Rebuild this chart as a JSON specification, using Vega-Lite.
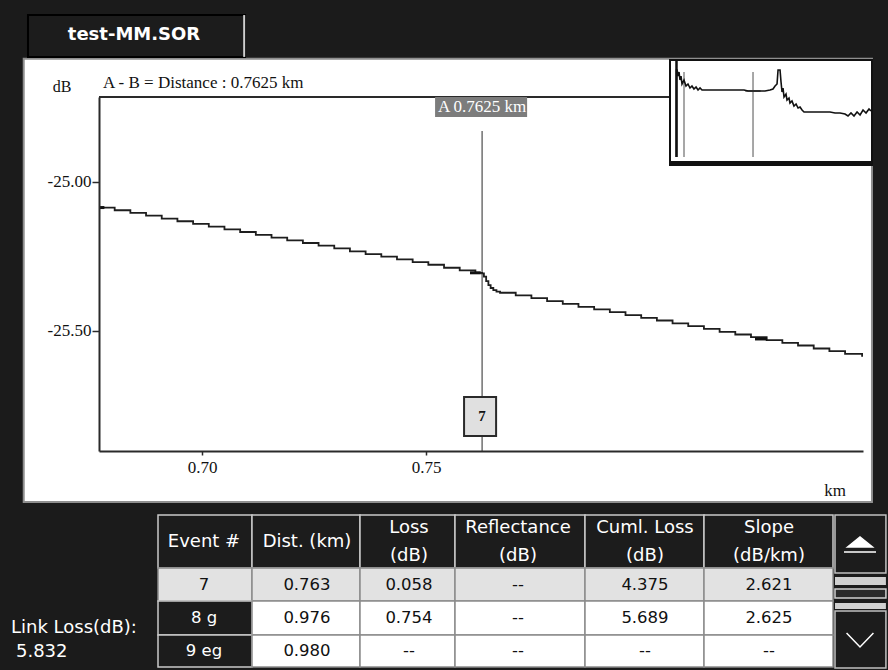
{
"$schema": "https://vega.github.io/schema/vega-lite/v6.json",
"width": 888, "height": 670, "autosize": "none", "padding": 0,
"background": "#1b1b1b",
"config": {"view": {"stroke": null}},
"data": {"values": [{}]},
"datasets": {
"trace": [
{"km":0.6770,"db":-25.086},{"km":0.6805,"db":-25.095},{"km":0.6840,"db":-25.104},{"km":0.6875,"db":-25.113},{"km":0.6910,"db":-25.123},{"km":0.6945,"db":-25.132},{"km":0.6980,"db":-25.141},{"km":0.7015,"db":-25.150},{"km":0.7050,"db":-25.159},{"km":0.7085,"db":-25.168},{"km":0.7120,"db":-25.178},{"km":0.7155,"db":-25.187},{"km":0.7190,"db":-25.196},{"km":0.7225,"db":-25.205},{"km":0.7260,"db":-25.214},{"km":0.7295,"db":-25.223},{"km":0.7330,"db":-25.233},{"km":0.7365,"db":-25.242},{"km":0.7400,"db":-25.251},{"km":0.7435,"db":-25.260},{"km":0.7470,"db":-25.269},{"km":0.7505,"db":-25.278},{"km":0.7540,"db":-25.288},{"km":0.7575,"db":-25.297},{"km":0.7610,"db":-25.305},{"km":0.7625,"db":-25.307},
{"km":0.7629,"db":-25.318},{"km":0.7634,"db":-25.333},{"km":0.7639,"db":-25.346},{"km":0.7644,"db":-25.356},{"km":0.7650,"db":-25.363},{"km":0.7657,"db":-25.368},
{"km":0.7665,"db":-25.372},{"km":0.7700,"db":-25.381},{"km":0.7735,"db":-25.390},{"km":0.7770,"db":-25.400},{"km":0.7805,"db":-25.409},{"km":0.7840,"db":-25.419},{"km":0.7875,"db":-25.428},{"km":0.7910,"db":-25.437},{"km":0.7945,"db":-25.447},{"km":0.7980,"db":-25.456},{"km":0.8015,"db":-25.465},{"km":0.8050,"db":-25.475},{"km":0.8085,"db":-25.484},{"km":0.8120,"db":-25.493},{"km":0.8155,"db":-25.503},{"km":0.8190,"db":-25.512},{"km":0.8225,"db":-25.521},{"km":0.8260,"db":-25.531},{"km":0.8295,"db":-25.540},{"km":0.8330,"db":-25.549},{"km":0.8365,"db":-25.559},{"km":0.8400,"db":-25.568},{"km":0.8435,"db":-25.577},{"km":0.8473,"db":-25.587}
],
"markers": [
{"seg":"a","x0":0.6770,"x1":0.6782,"db":-25.086},
{"seg":"b","x0":0.7598,"x1":0.7622,"db":-25.305},
{"seg":"c","x0":0.8234,"x1":0.8261,"db":-25.527}
],
"cursor": [{"cursor":"A","km":0.7625,"label":"A 0.7625 km"}],
"events": [{"event":"7","km":0.7625}],
"overview": [
{"km":-0.083,"db":-46.46},{"km":-0.083,"db":-18.99},{"km":-0.077,"db":-18.99},{"km":-0.066,"db":-20.88},{"km":-0.055,"db":-19.62},{"km":-0.044,"db":-22.15},{"km":-0.033,"db":-20.88},{"km":-0.022,"db":-23.41},{"km":0.000,"db":-22.15},{"km":0.022,"db":-24.04},{"km":0.044,"db":-23.41},{"km":0.066,"db":-24.67},{"km":0.088,"db":-24.04},{"km":0.110,"db":-24.99},{"km":0.133,"db":-24.36},{"km":0.155,"db":-25.30},{"km":0.177,"db":-24.67},{"km":0.199,"db":-25.30},{"km":0.663,"db":-25.30},{"km":0.707,"db":-25.62},{"km":0.895,"db":-25.62},{"km":0.950,"db":-25.30},{"km":0.983,"db":-24.99},{"km":1.006,"db":-24.04},{"km":1.028,"db":-23.41},{"km":1.039,"db":-18.99},{"km":1.061,"db":-18.99},{"km":1.072,"db":-22.78},{"km":1.083,"db":-25.93},{"km":1.094,"db":-24.67},{"km":1.105,"db":-27.51},{"km":1.127,"db":-26.57},{"km":1.138,"db":-28.46},{"km":1.160,"db":-27.83},{"km":1.171,"db":-29.41},{"km":1.193,"db":-28.78},{"km":1.215,"db":-30.35},{"km":1.238,"db":-29.72},{"km":1.260,"db":-30.99},{"km":1.282,"db":-30.67},{"km":1.304,"db":-31.62},{"km":1.326,"db":-32.25},{"km":1.613,"db":-32.25},{"km":1.669,"db":-32.56},{"km":1.724,"db":-32.56},{"km":1.779,"db":-32.88},{"km":1.812,"db":-33.51},{"km":1.845,"db":-32.56},{"km":1.878,"db":-33.51},{"km":1.912,"db":-32.25},{"km":1.945,"db":-33.20},{"km":1.978,"db":-31.62},{"km":2.011,"db":-32.56},{"km":2.044,"db":-31.30},{"km":2.066,"db":-31.93}
],
"overviewCursors": [{"cursor":"B","km":0.0},{"cursor":"A","km":0.7625}],
"zoomWindow": [{"km0":0.677,"km1":0.8475}],
"table": [
{"r":0,"r2":1,"c":0,"c2":1,"kind":"header","text":"Event #"},
{"r":0,"r2":1,"c":1,"c2":2,"kind":"header","text":"Dist. (km)"},
{"r":0,"r2":1,"c":2,"c2":3,"kind":"header","text":"Loss\n(dB)"},
{"r":0,"r2":1,"c":3,"c2":4,"kind":"header","text":"Reflectance\n(dB)"},
{"r":0,"r2":1,"c":4,"c2":5,"kind":"header","text":"Cuml. Loss\n(dB)"},
{"r":0,"r2":1,"c":5,"c2":6,"kind":"header","text":"Slope\n(dB/km)"},
{"r":1,"r2":2,"c":0,"c2":1,"kind":"sel","text":"7"},
{"r":1,"r2":2,"c":1,"c2":2,"kind":"sel","text":"0.763"},
{"r":1,"r2":2,"c":2,"c2":3,"kind":"sel","text":"0.058"},
{"r":1,"r2":2,"c":3,"c2":4,"kind":"sel","text":"--"},
{"r":1,"r2":2,"c":4,"c2":5,"kind":"sel","text":"4.375"},
{"r":1,"r2":2,"c":5,"c2":6,"kind":"sel","text":"2.621"},
{"r":2,"r2":3,"c":0,"c2":1,"kind":"evt","text":"8 g"},
{"r":2,"r2":3,"c":1,"c2":2,"kind":"cell","text":"0.976"},
{"r":2,"r2":3,"c":2,"c2":3,"kind":"cell","text":"0.754"},
{"r":2,"r2":3,"c":3,"c2":4,"kind":"cell","text":"--"},
{"r":2,"r2":3,"c":4,"c2":5,"kind":"cell","text":"5.689"},
{"r":2,"r2":3,"c":5,"c2":6,"kind":"cell","text":"2.625"},
{"r":3,"r2":4,"c":0,"c2":1,"kind":"evt","text":"9 eg"},
{"r":3,"r2":4,"c":1,"c2":2,"kind":"cell","text":"0.980"},
{"r":3,"r2":4,"c":2,"c2":3,"kind":"cell","text":"--"},
{"r":3,"r2":4,"c":3,"c2":4,"kind":"cell","text":"--"},
{"r":3,"r2":4,"c":4,"c2":5,"kind":"cell","text":"--"},
{"r":3,"r2":4,"c":5,"c2":6,"kind":"cell","text":"--"}
]
},
"resolve": {"scale": {"x": "independent", "y": "independent"}, "axis": {"x": "independent", "y": "independent"}},
"layer": [
{
"layer": [
{"mark": {"type": "rect", "fill": "#ffffff", "stroke": "#8f8f8f", "strokeWidth": 2},
 "encoding": {"x": {"datum": 0.6602, "type": "quantitative", "scale": {"domain": [0.677, 0.8475], "range": [99, 863], "nice": false, "zero": false}}, "x2": {"datum": 0.8495}, "y": {"datum": -24.587, "type": "quantitative", "scale": {"domain": [-25.903, -24.715], "range": [451, 97], "nice": false, "zero": false}}, "y2": {"datum": -26.074}}},
{"mark": {"type": "rect", "fill": "#1c1c1c", "stroke": "#000000", "strokeWidth": 2},
 "encoding": {"x": {"datum": 0.66115, "type": "quantitative"}, "x2": {"datum": 0.70959}, "y": {"datum": -24.440, "type": "quantitative"}, "y2": {"datum": -24.5805}}},
{"mark": {"type": "rule", "color": "#cfcfcf", "strokeWidth": 2},
 "encoding": {"x": {"datum": 0.7094, "type": "quantitative"}, "y": {"datum": -24.440, "type": "quantitative"}, "y2": {"datum": -24.5805}}},
{"mark": {"type": "text", "font": "DejaVu Sans", "fontWeight": "bold", "fontSize": 18, "color": "#ffffff", "align": "center", "baseline": "middle", "text": "test-MM.SOR"},
 "encoding": {"x": {"datum": 0.68481, "type": "quantitative"}, "y": {"datum": -24.5067, "type": "quantitative"}}},
{"mark": {"type": "rule", "color": "#2a2a2a", "strokeWidth": 2},
 "encoding": {"x": {"datum": 0.677, "type": "quantitative"}, "x2": {"datum": 0.8475}, "y": {"datum": -24.715, "type": "quantitative"}}},
{"data": {"name": "cursor"}, "mark": {"type": "rule", "color": "#707070", "strokeWidth": 1.5},
 "encoding": {"x": {"field": "km", "type": "quantitative"}, "y": {"datum": -24.829, "type": "quantitative"}, "y2": {"datum": -25.903}}},
{"data": {"name": "trace"}, "mark": {"type": "line", "interpolate": "step-after", "color": "#1e1e1e", "strokeWidth": 1.8},
 "encoding": {
  "x": {"field": "km", "type": "quantitative", "scale": {"domain": [0.677, 0.8475], "range": [99, 863], "nice": false, "zero": false},
        "axis": {"orient": "bottom", "offset": -219, "values": [0.7, 0.75], "format": ".2f", "title": null, "grid": false, "domainColor": "#2a2a2a", "domainWidth": 2, "tickColor": "#2a2a2a", "tickSize": 4, "tickWidth": 1.5, "labelFont": "Liberation Serif", "labelFontSize": 17, "labelColor": "#111111", "labelPadding": 4, "labelFlush": false, "labelOverlap": false, "zindex": 1}},
  "y": {"field": "db", "type": "quantitative", "scale": {"domain": [-25.903, -24.715], "range": [451, 97], "nice": false, "zero": false},
        "axis": {"orient": "left", "offset": -99, "values": [-25, -25.5], "labelExpr": "'-' + format(-datum.value, '.2f')", "title": null, "grid": false, "domainColor": "#2a2a2a", "domainWidth": 2, "tickColor": "#2a2a2a", "tickSize": 7, "tickWidth": 1.5, "labelFont": "Liberation Serif", "labelFontSize": 17, "labelColor": "#111111", "labelPadding": 1, "labelFlush": false, "labelOverlap": false, "zindex": 1}}}},
{"data": {"name": "markers"}, "mark": {"type": "rule", "color": "#111111", "strokeWidth": 3},
 "encoding": {"x": {"field": "x0", "type": "quantitative"}, "x2": {"field": "x1"}, "y": {"field": "db", "type": "quantitative"}}},
{"mark": {"type": "rect", "fill": "#7c7c7c"},
 "encoding": {"x": {"datum": 0.7520, "type": "quantitative"}, "x2": {"datum": 0.77254}, "y": {"datum": -24.715, "type": "quantitative"}, "y2": {"datum": -24.782}}},
{"data": {"name": "cursor"}, "mark": {"type": "text", "font": "Liberation Serif", "fontSize": 17, "color": "#ffffff", "align": "center", "baseline": "middle"},
 "encoding": {"x": {"field": "km", "type": "quantitative"}, "y": {"datum": -24.7485, "type": "quantitative"}, "text": {"field": "label"}}},
{"mark": {"type": "rect", "fill": "#e0e0e0", "stroke": "#2a2a2a", "strokeWidth": 2},
 "encoding": {"x": {"datum": 0.75847, "type": "quantitative"}, "x2": {"datum": 0.76562}, "y": {"datum": -25.7215, "type": "quantitative"}, "y2": {"datum": -25.8523}}},
{"data": {"name": "events"}, "mark": {"type": "text", "font": "Liberation Serif", "fontWeight": "bold", "fontSize": 15, "color": "#111111", "align": "center", "baseline": "middle"},
 "encoding": {"x": {"field": "km", "type": "quantitative"}, "y": {"datum": -25.787, "type": "quantitative"}, "text": {"field": "event"}}},
{"mark": {"type": "text", "font": "Liberation Serif", "fontSize": 17, "color": "#111111", "align": "left", "baseline": "middle", "text": "A - B = Distance : 0.7625 km"},
 "encoding": {"x": {"datum": 0.6779, "type": "quantitative"}, "y": {"datum": -24.668, "type": "quantitative"}}},
{"mark": {"type": "text", "font": "Liberation Serif", "fontSize": 16, "color": "#111111", "align": "center", "baseline": "middle", "text": "dB"},
 "encoding": {"x": {"datum": 0.66874, "type": "quantitative"}, "y": {"datum": -24.681, "type": "quantitative"}}},
{"mark": {"type": "text", "font": "Liberation Serif", "fontSize": 17, "color": "#111111", "align": "center", "baseline": "middle", "text": "km"},
 "encoding": {"x": {"datum": 0.84129, "type": "quantitative"}, "y": {"datum": -26.037, "type": "quantitative"}}},
{"mark": {"type": "text", "font": "DejaVu Sans", "fontSize": 18, "color": "#ffffff", "align": "left", "baseline": "middle", "text": "Link Loss(dB):"},
 "encoding": {"x": {"datum": 0.65735, "type": "quantitative"}, "y": {"datum": -26.4966, "type": "quantitative"}}},
{"mark": {"type": "text", "font": "DejaVu Sans", "fontSize": 18, "color": "#ffffff", "align": "left", "baseline": "middle", "text": "5.832"},
 "encoding": {"x": {"datum": 0.65847, "type": "quantitative"}, "y": {"datum": -26.5772, "type": "quantitative"}}}
]
},
{
"layer": [
{"mark": {"type": "rect", "fill": "#ffffff", "stroke": "#111111", "strokeWidth": 2},
 "encoding": {"x": {"datum": -0.1547, "type": "quantitative", "scale": {"domain": [-0.1547, 2.077], "range": [670, 872], "nice": false, "zero": false}, "axis": null}, "x2": {"datum": 2.077}, "y": {"datum": -48.98, "type": "quantitative", "scale": {"domain": [-48.98, -15.83], "range": [165, 60], "nice": false, "zero": false}, "axis": null}, "y2": {"datum": -15.83}}},
{"mark": {"type": "rule", "color": "#111111", "strokeWidth": 4},
 "encoding": {"x": {"datum": -0.1547, "type": "quantitative", "axis": null}, "x2": {"datum": 2.077}, "y": {"datum": -48.35, "type": "quantitative", "axis": null}}},
{"mark": {"type": "rule", "color": "#111111", "strokeWidth": 2.5},
 "encoding": {"x": {"datum": -0.083, "type": "quantitative", "axis": null}, "y": {"datum": -15.83, "type": "quantitative", "axis": null}, "y2": {"datum": -46.46}}},
{"data": {"name": "overviewCursors"}, "mark": {"type": "rule", "color": "#8a8a8a", "strokeWidth": 1.5},
 "encoding": {"x": {"field": "km", "type": "quantitative", "axis": null}, "y": {"datum": -19.62, "type": "quantitative", "axis": null}, "y2": {"datum": -46.46}}},
{"data": {"name": "zoomWindow"}, "mark": {"type": "rule", "color": "#8a8a8a", "strokeWidth": 2},
 "encoding": {"x": {"field": "km0", "type": "quantitative", "axis": null}, "x2": {"field": "km1"}, "y": {"datum": -25.62, "type": "quantitative", "axis": null}}},
{"data": {"name": "overview"}, "mark": {"type": "line", "color": "#111111", "strokeWidth": 1.6},
 "encoding": {"x": {"field": "km", "type": "quantitative", "axis": null}, "y": {"field": "db", "type": "quantitative", "axis": null}}}
]
},
{
"layer": [
{"data": {"name": "table"}, "mark": {"type": "rect", "strokeWidth": 1.5},
 "encoding": {
  "x": {"field": "c", "type": "quantitative", "scale": {"domain": [0, 1, 2, 3, 4, 5, 6, 7], "range": [158, 252, 360, 455, 585, 704, 833, 887], "nice": false, "zero": false}, "axis": null},
  "x2": {"field": "c2"},
  "y": {"field": "r", "type": "quantitative", "scale": {"domain": [0, 1, 2, 3, 4], "range": [515, 568, 601, 635, 667], "nice": false, "zero": false}, "axis": null},
  "y2": {"field": "r2"},
  "fill": {"field": "kind", "type": "nominal", "scale": {"domain": ["header", "sel", "evt", "cell"], "range": ["#1c1c1c", "#e2e2e2", "#1c1c1c", "#ffffff"]}, "legend": null},
  "stroke": {"field": "kind", "type": "nominal", "scale": {"domain": ["header", "sel", "evt", "cell"], "range": ["#c9c9c9", "#8c8c8c", "#c9c9c9", "#8c8c8c"]}, "legend": null}}},
{"mark": {"type": "rect", "fill": "#1c1c1c", "stroke": "#c0c0c0", "strokeWidth": 1.5},
 "encoding": {"x": {"datum": 6.037, "type": "quantitative", "axis": null}, "x2": {"datum": 6.98}, "y": {"datum": 0, "type": "quantitative", "axis": null}, "y2": {"datum": 1.15}}},
{"mark": {"type": "rect", "fill": "#1c1c1c", "stroke": "#c0c0c0", "strokeWidth": 1.5},
 "encoding": {"x": {"datum": 6.037, "type": "quantitative", "axis": null}, "x2": {"datum": 6.98}, "y": {"datum": 2.294, "type": "quantitative", "axis": null}, "y2": {"datum": 4.03}}},
{"mark": {"type": "rect", "fill": "#d0d0d0"},
 "encoding": {"x": {"datum": 6.037, "type": "quantitative", "axis": null}, "x2": {"datum": 6.98}, "y": {"datum": 1.273, "type": "quantitative", "axis": null}, "y2": {"datum": 1.515}}},
{"mark": {"type": "rect", "fill": "#2a2a2a", "stroke": "#d0d0d0", "strokeWidth": 1.5},
 "encoding": {"x": {"datum": 6.037, "type": "quantitative", "axis": null}, "x2": {"datum": 6.98}, "y": {"datum": 1.636, "type": "quantitative", "axis": null}, "y2": {"datum": 1.909}}},
{"mark": {"type": "rect", "fill": "#d0d0d0"},
 "encoding": {"x": {"datum": 6.037, "type": "quantitative", "axis": null}, "x2": {"datum": 6.98}, "y": {"datum": 2.06, "type": "quantitative", "axis": null}, "y2": {"datum": 2.235}}},
{"mark": {"type": "point", "shape": "M-0.78,0.19L0,-0.44L0.78,0.19Z M-1,0.5L1,0.5", "size": 1024, "filled": true, "fill": "#ffffff", "stroke": "#ffffff", "strokeWidth": 1.5, "opacity": 1},
 "encoding": {"x": {"datum": 6.5, "type": "quantitative", "axis": null}, "y": {"datum": 0.547, "type": "quantitative", "axis": null}}},
{"mark": {"type": "point", "shape": "M-0.84,-0.44L0,0.44L0.84,-0.44", "size": 1024, "filled": false, "color": "#ffffff", "strokeWidth": 1.5, "opacity": 1},
 "encoding": {"x": {"datum": 6.5, "type": "quantitative", "axis": null}, "y": {"datum": 3.156, "type": "quantitative", "axis": null}}}
]
},
{
"layer": [
{"data": {"name": "table"}, "transform": [{"filter": "datum.kind == 'header' && datum.c < 2"}],
 "mark": {"type": "text", "font": "DejaVu Sans", "fontSize": 18, "color": "#ffffff", "align": "center", "baseline": "middle"},
 "encoding": {
  "x": {"field": "c", "type": "quantitative", "scale": {"domain": [0, 1, 2, 3, 4, 5], "range": [204, 307, 409, 518, 645, 769], "nice": false, "zero": false}, "axis": null},
  "y": {"field": "r", "type": "quantitative", "scale": {"domain": [0, 1, 2, 3], "range": [542, 585, 618, 651], "nice": false, "zero": false}, "axis": null},
  "text": {"field": "text"}}},
{"data": {"name": "table"}, "transform": [{"filter": "datum.kind == 'header' && datum.c >= 2"}],
 "mark": {"type": "text", "font": "DejaVu Sans", "fontSize": 18, "color": "#ffffff", "align": "center", "baseline": "middle", "lineBreak": "\n", "lineHeight": 28, "dy": -14},
 "encoding": {
  "x": {"field": "c", "type": "quantitative", "axis": null},
  "y": {"field": "r", "type": "quantitative", "axis": null},
  "text": {"field": "text"}}},
{"data": {"name": "table"}, "transform": [{"filter": "datum.kind != 'header'"}],
 "mark": {"type": "text", "font": "DejaVu Sans", "fontSize": 16.5, "align": "center", "baseline": "middle"},
 "encoding": {
  "x": {"field": "c", "type": "quantitative", "axis": null},
  "y": {"field": "r", "type": "quantitative", "axis": null},
  "text": {"field": "text"},
  "color": {"condition": {"test": "datum.kind == 'evt'", "value": "#ffffff"}, "value": "#111111"}}}
]
}
]
}
